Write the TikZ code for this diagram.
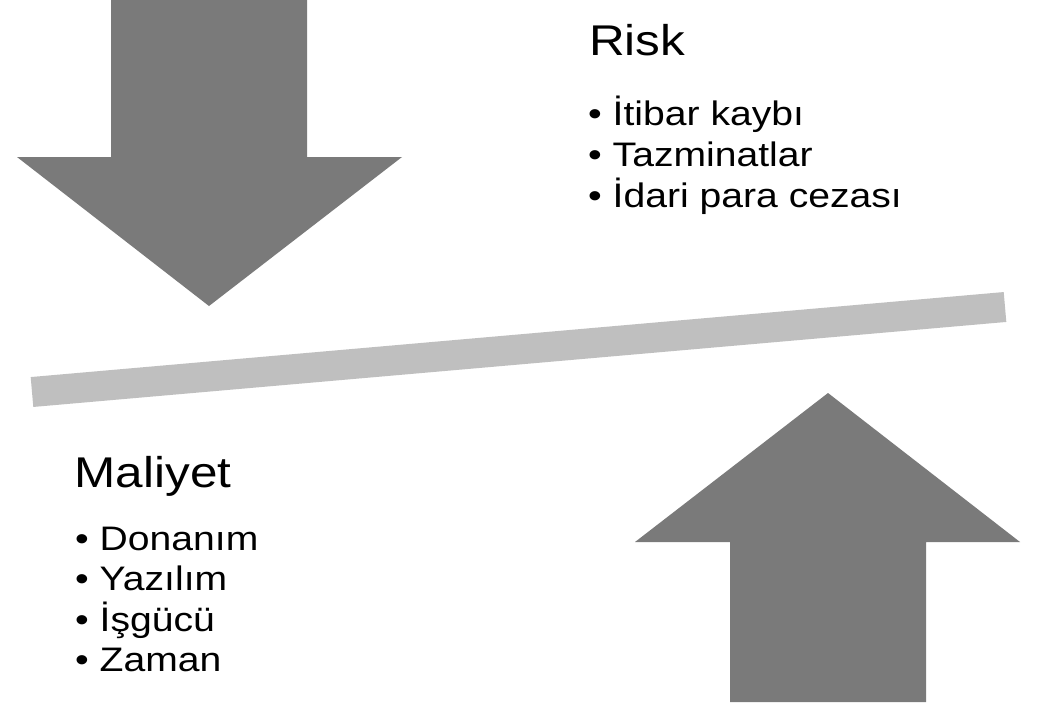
\documentclass[tikz,border=0pt]{standalone}
\usepackage{fontspec}
\setmainfont[FakeStretch=1.15]{Liberation Sans}
\usepackage{tikz}
\usetikzlibrary{positioning}
\definecolor{arrowgray}{RGB}{122,122,122}
\definecolor{beamgray}{RGB}{191,191,191}
\tikzset{
	bigarrow/.style={
		fill=arrowgray, draw=none,
	},
	beam/.style={
		draw=beamgray, line width=30pt, line cap=butt,
	},
	heading/.style={
		anchor=base west, inner sep=0pt, font=\fontsize{43}{50}\selectfont,
	},
	item/.style={
		anchor=base west, inner sep=0pt, font=\fontsize{34}{40}\selectfont,
	}
}
\begin{document}
\begin{tikzpicture}[x=1pt, y=-1pt]
				\useasboundingbox[fill=white] (0,0) rectangle (1038,702);
				
				% arrow pushing down (risk side)
				\fill [bigarrow] (111,0) -- (307,0) -- (307,157) -- (402,157)
				      -- (209,306) -- (17,157) -- (111,157) -- cycle;
				% arrow pushing up (cost side)
				\fill [bigarrow] (730,702) -- (926,702) -- (926,542) -- (1020,542)
				      -- (828,393) -- (635,542) -- (730,542) -- cycle;
				
				% the tilted beam
				\coordinate (beaml) at (32,392);
				\coordinate (beamr) at (1005,307);
				\draw [beam] (beaml) -- (beamr);
				
				\node [heading] (risk) at (589,55) {Risk};
				\node [item] (itibar) at (588,125.5) {• İtibar kaybı};
				\node [item] (tazm) at (588,166.5) {• Tazminatlar};
				\node [item] (idari) at (588,207.5) {• İdari para cezası};
				
				\node [heading] (maliyet) at (74.5,487) {Maliyet};
				\node [item] (donanim) at (75,550) {• Donanım};
				\node [item] (yazilim) at (75,590.5) {• Yazılım};
				\node [item] (isgucu) at (75,631) {• İşgücü};
				\node [item] (zaman) at (75,671) {• Zaman};
\end{tikzpicture}
\end{document}
